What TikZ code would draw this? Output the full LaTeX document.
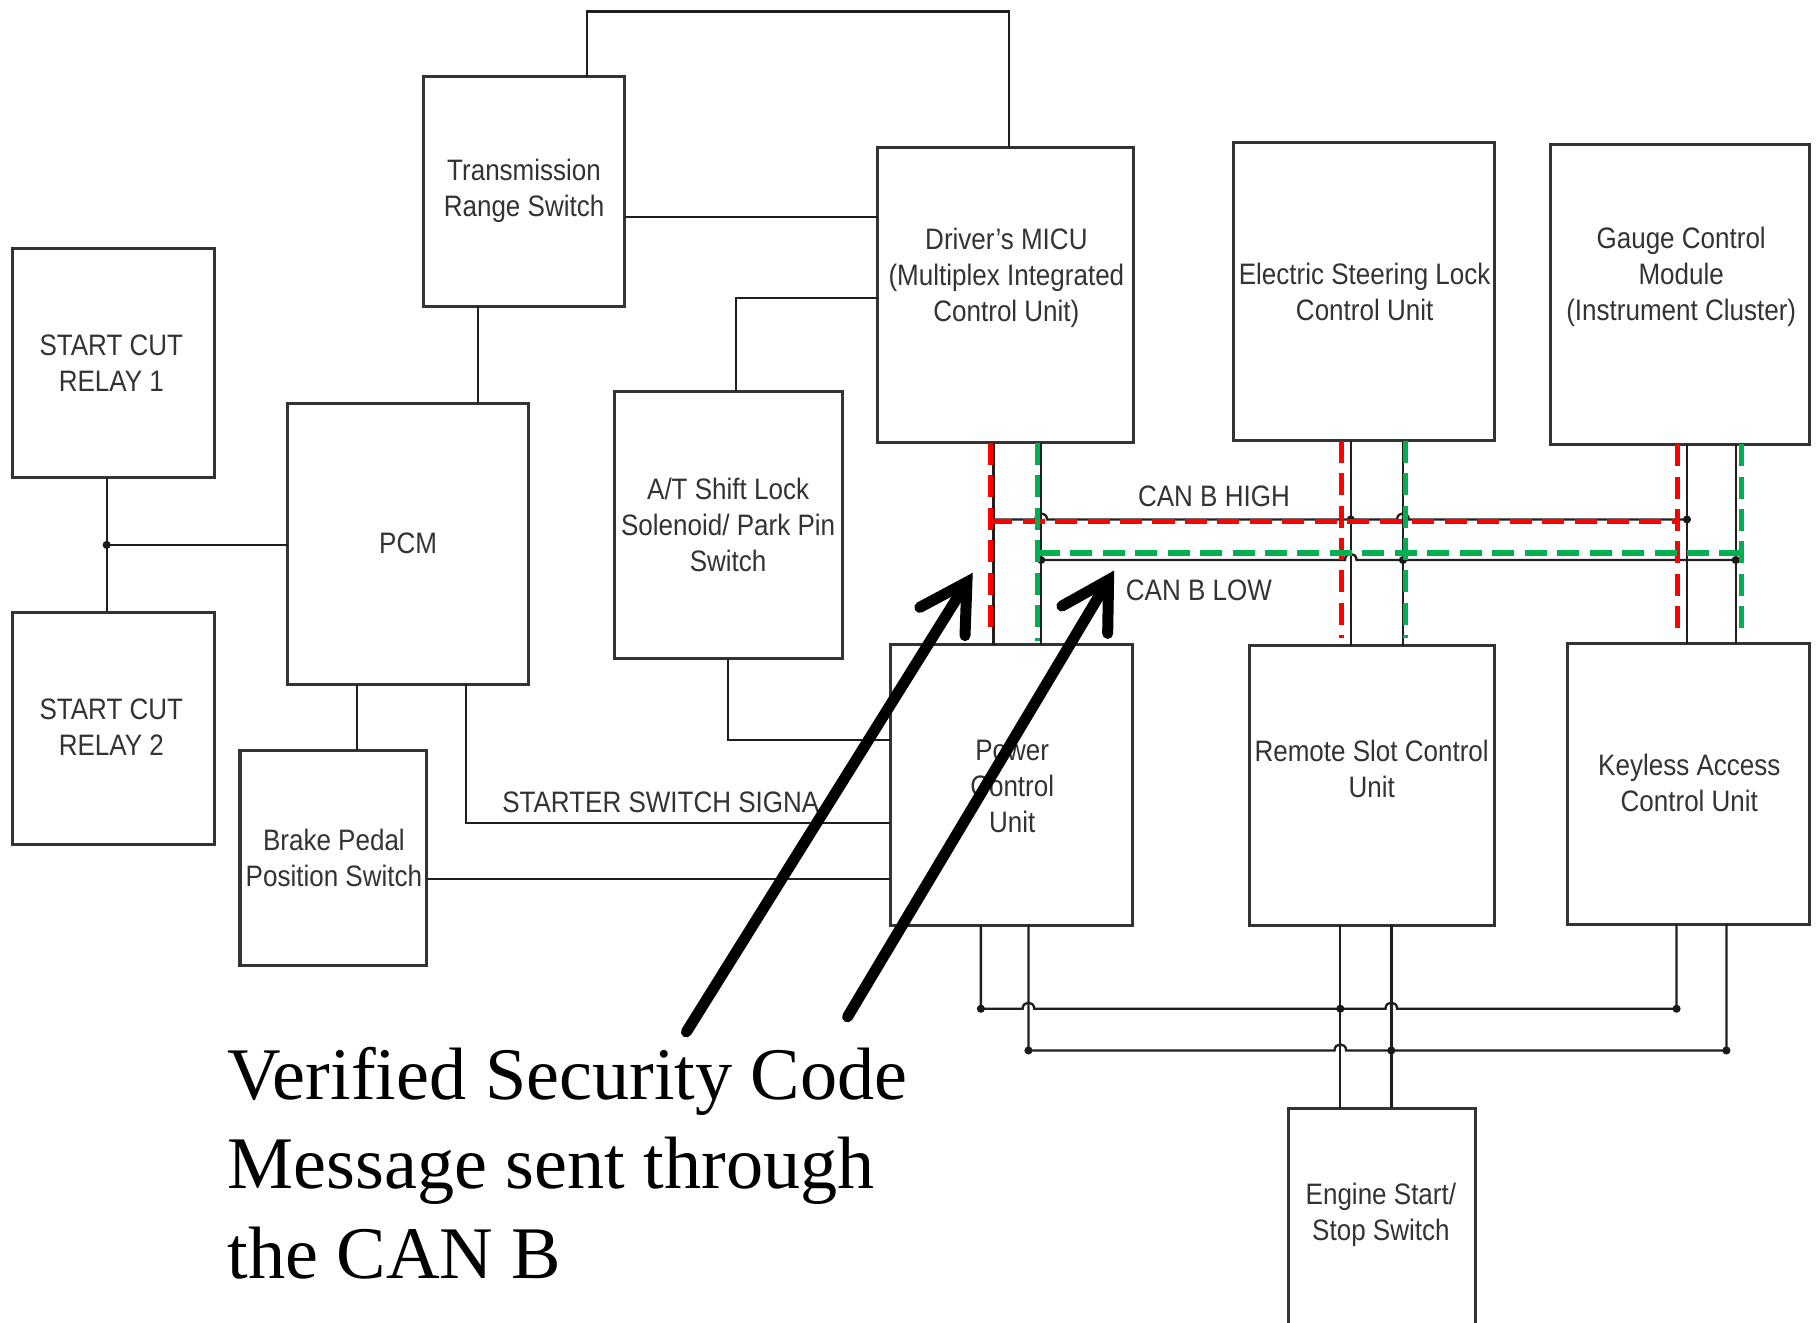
\documentclass[tikz,border=0pt]{standalone}
\usepackage{fontspec}
\setmainfont{Liberation Serif}
\newfontfamily\boxfont[FakeStretch=0.88]{Liberation Sans}
\usetikzlibrary{arrows.meta}
\definecolor{canred}{HTML}{FF0000}
\definecolor{cangreen}{HTML}{00B050}

\begin{document}
\begin{tikzpicture}[x=1pt,y=-1pt,
  box/.style={draw=black!80, line width=2.6pt, fill=white, anchor=north west,
    inner sep=0pt, outer sep=0pt},
  lbl/.style={font=\boxfont\fontsize{25.5}{31}\selectfont, text=black!80,
    align=center, inner sep=0pt},
  wire/.style={draw=black!88, line width=2pt},
  canhigh/.style={draw=canred, line width=4.6pt, dash pattern=on 19pt off 9pt},
  canlow/.style={draw=cangreen, line width=4.6pt, dash pattern=on 19pt off 9pt},
  bigarrow/.style={line width=9.5pt, line cap=round,
    -{Straight Barb[length=40pt,width=46pt,line cap=round]}},
  jdot/.style={fill=black!90}
]
\useasboundingbox[fill=white] (0,0) rectangle (1568,1141);

% ---------- modules ----------
\node[box, minimum width=174pt, minimum height=198pt] (relay1) at (11,214) {};
\node[box, minimum width=174pt, minimum height=200pt] (relay2) at (11,528) {};
\node[box, minimum width=208pt, minimum height=242pt] (pcm) at (248,348) {};
\node[box, minimum width=174pt, minimum height=198pt] (trs) at (365,66) {};
\node[box, minimum width=221pt, minimum height=255pt] (micu) at (757,127) {};
\node[box, minimum width=197pt, minimum height=230pt] (atsl) at (530,338) {};
\node[box, minimum width=209pt, minimum height=242pt] (pcu) at (768,556) {};
\node[box, minimum width=161pt, minimum height=186pt] (brake) at (207,647) {};
\node[box, minimum width=225pt, minimum height=257pt] (esl) at (1064,123) {};
\node[box, minimum width=224pt, minimum height=258pt] (gcm) at (1337,125) {};
\node[box, minimum width=211pt, minimum height=241pt] (rscu) at (1078,557) {};
\node[box, minimum width=209pt, minimum height=242pt] (kacu) at (1352,555) {};
\node[box, minimum width=162pt, minimum height=250pt] (ess) at (1111,956) {};

% ---------- module labels ----------
\node[lbl] (relay1-t) at (96,313) {START CUT\\RELAY 1};
\node[lbl] (relay2-t) at (96,627) {START CUT\\RELAY 2};
\node[lbl] (pcm-t) at (352,469) {PCM};
\node[lbl] (trs-t) at (452,165) {Transmission\\Range Switch};
\node[lbl] (micu-t) at (868,240) {Driver’s MICU\\(Multiplex Integrated\\Control Unit)};
\node[lbl] (atsl-t) at (628,453) {A/T Shift Lock\\Solenoid/ Park Pin\\Switch};
\node[lbl] (pcu-t) at (873,678) {Power\\Control\\Unit};
\node[lbl] (brake-t) at (288,740) {Brake Pedal\\Position Switch};
\node[lbl] (esl-t) at (1177,252) {Electric Steering Lock\\Control Unit};
\node[lbl] (gcm-t) at (1450,239) {Gauge Control\\Module\\(Instrument Cluster)};
\node[lbl] (rscu-t) at (1183,663) {Remote Slot Control\\Unit};
\node[lbl] (kacu-t) at (1457,675) {Keyless Access\\Control Unit};
\node[lbl] (ess-t) at (1191,1048) {Engine Start/\\Stop Switch};

% ---------- discrete wiring ----------
\coordinate (jr) at (92,470);
\draw[wire] (relay1.south -| jr) -- (relay2.north -| jr);
\draw[wire] (jr) -- (pcm.west |- jr);
\fill[jdot] (jr) circle[radius=3.5];

\draw[wire] (trs.south -| 412,0) -- (pcm.north -| 412,0);
\draw[wire] (trs.east |- 0,187) -- (micu.west |- 0,187);
\draw[wire] (trs.north -| 506,0) -- (506,10) -- (870,10) -- (micu.north -| 870,0);
\draw[wire] (atsl.north -| 635,0) -- (635,257) -- (micu.west |- 0,257);
\draw[wire] (atsl.south -| 628,0) -- (628,638) -- (pcu.west |- 0,638);
\draw[wire] (pcm.south -| 308,0) -- (brake.north -| 308,0);
\draw[wire] (pcm.south -| 402,0) -- (402,710) -- (pcu.west |- 0,710);
\draw[wire] (brake.east |- 0,758) -- (pcu.west |- 0,758);
\node[lbl, anchor=west] (starter) at (433,692) {STARTER SWITCH SIGNA};

% ---------- CAN B bus ----------
\draw[wire] (micu.south -| 857,0) -- (pcu.north -| 857,0);
\draw[wire] (micu.south -| 898,0) -- (pcu.north -| 898,0);
\draw[wire] (esl.south -| 1165,0) -- (rscu.north -| 1165,0);
\draw[wire] (esl.south -| 1210,0) -- (rscu.north -| 1210,0);
\draw[wire] (gcm.south -| 1455,0) -- (kacu.north -| 1455,0);
\draw[wire] (gcm.south -| 1497,0) -- (kacu.north -| 1497,0);
% high line, hopping over the low-side pins
\draw[wire] (857,448) -- (893,448) .. controls (893,441) and (903,441) .. (903,448)
  -- (1205,448) .. controls (1205,441) and (1215,441) .. (1215,448) -- (1455,448);
% low line, hopping over the high-side pin
\draw[wire] (898,483) -- (1160,483) .. controls (1160,476) and (1170,476) .. (1170,483)
  -- (1497,483);
\foreach \p in {(1165,448),(1455,448),(898,483),(1210,483),(1497,483)}
  \fill[jdot] \p circle[radius=3.5];
\node[lbl] (canh-t) at (1047,428) {CAN B HIGH};
\node[lbl] (canl-t) at (1034,509) {CAN B LOW};

% highlighted CAN B HIGH path
\draw[canhigh] (micu.south -| 854,0) -- (854,548);
\draw[canhigh] (854,450) -- (1447,450);
\draw[canhigh] (esl.south -| 1157,0) -- (1157,550);
\draw[canhigh] (gcm.south -| 1447,0) -- (1447,545);
% highlighted CAN B LOW path
\draw[canlow] (micu.south -| 895,0) -- (895,553);
\draw[canlow] (895,477) -- (1502,477);
\draw[canlow] (esl.south -| 1212,0) -- (1212,550);
\draw[canlow] (gcm.south -| 1502,0) -- (1502,548);

% ---------- start/stop switch lines ----------
\draw[wire] (pcu.south -| 846,0) -- (846,870) -- (882,870)
  .. controls (882,863) and (892,863) .. (892,870) -- (1195,870)
  .. controls (1195,863) and (1205,863) .. (1205,870) -- (1446,870)
  -- (kacu.south -| 1446,0);
\draw[wire] (pcu.south -| 887,0) -- (887,906) -- (1151,906)
  .. controls (1151,899) and (1161,899) .. (1161,906) -- (1489,906)
  -- (kacu.south -| 1489,0);
\draw[wire] (rscu.south -| 1156,0) -- (ess.north -| 1156,0);
\draw[wire] (rscu.south -| 1200,0) -- (ess.north -| 1200,0);
\foreach \p in {(846,870),(1156,870),(1446,870),(887,906),(1200,906),(1489,906)}
  \fill[jdot] \p circle[radius=3.5];

% ---------- message annotation ----------
\coordinate (a1s) at (592,890);
\coordinate (a1e) at (839,494);
\coordinate (a2s) at (731,877);
\coordinate (a2e) at (961,492);
\draw[bigarrow] (a1s) -- (a1e);
\draw[bigarrow] (a2s) -- (a2e);
\node[anchor=north west, inner sep=0pt, align=left,
  font=\fontsize{64}{77}\selectfont] (msg) at (196,903)
  {Verified Security Code\\Message sent through\\the CAN B};
\end{tikzpicture}
\end{document}
